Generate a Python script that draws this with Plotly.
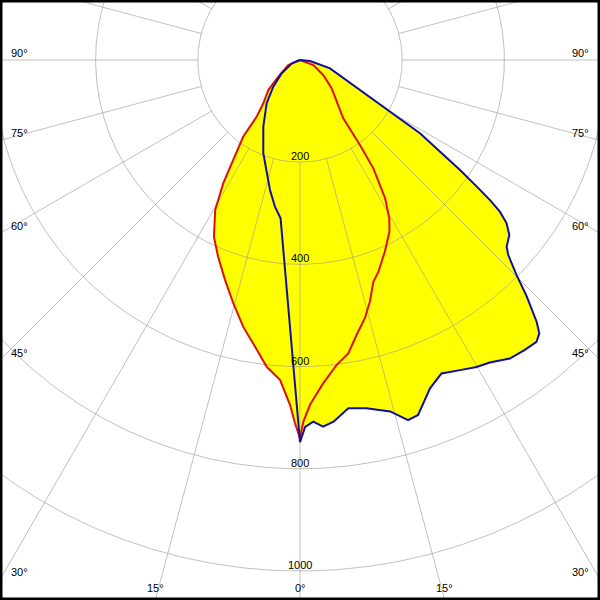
import numpy as np
import plotly.graph_objects as go

# ---- Data: luminous intensity (cd) against gamma angle (deg) ----
blue_right_gamma = [0, 0.8, 2.1, 3.6, 5.3, 7.9, 10.8, 14.4, 16.7, 18.4,
                    21.6, 24.3, 27.3, 29.9, 32.1, 35.1, 37.8, 40.0, 41.2, 42.1,
                    43.8, 45.2, 46.9, 47.9, 50.1, 51.7, 52.8, 53.6, 54.4, 55.5,
                    58.6, 60.1, 63.5, 74.5, 84, 90]
blue_right_cd = [748, 718, 708, 719, 711, 688, 694, 710, 736, 732,
                 691, 673, 683, 693, 699, 714, 718, 720, 711, 691,
                 641, 597, 558, 545, 534, 515, 491, 462, 425, 380,
                 275, 203, 124, 61, 20, 0]

blue_left_gamma = [0, 7.0, 9.7, 13.0, 16.4, 21.5, 28.8, 37.6, 45, 54, 68, 90]
blue_left_cd = [748, 312, 291, 261, 231, 196, 149, 107, 74, 44, 17, 0]

red_right_gamma = [0, 0.52, 1.66, 4.12, 6.86, 9.35, 11.65, 14.1, 16.15, 18.3,
                   20.3, 23.9, 27.5, 29.4, 31.6, 34.1, 35.2, 36.6, 48.2, 57.2,
                   69.4, 90]
red_right_cd = [740, 708, 675, 634, 601, 582, 549, 521, 492, 457,
                442, 410, 379, 356, 318, 256, 204, 142, 83, 54,
                28, 0]

red_left_gamma = [0, 0.79, 1.66, 3.58, 6.2, 8.9, 12.0, 15.3, 18.8, 22.6,
                  25.95, 29.5, 31.9, 33.7, 36.5, 37.4, 40.3, 46.6, 52.4, 66.9, 90]
red_left_cd = [740, 711, 675, 627, 604, 568, 534, 494, 455, 417,
               385, 337, 284, 235, 187, 140, 111, 85, 54, 25, 0]

circle_values = [200, 400, 600, 800, 1000]
circle_labels = ["200", "400", "600", "800", "1000"]
spoke_angles = [0, 15, 30, 45, 60, 75, 90, 105, 120, 135, 150, 165, 180]
angle_label_values = [0, 15, 30, 45, 60, 75, 90]

# ---- geometry ----
S = 0.511            # px per cd
CX, CY = 300, 60     # pixel position of the origin
W, H = 600, 600
x_range = [-CX / S, (W - CX) / S]
y_range = [-(H - CY) / S, CY / S]


def polar_xy(gamma, cd, side):
    g = np.radians(np.asarray(gamma, dtype=float))
    r = np.asarray(cd, dtype=float)
    return side * r * np.sin(g), -r * np.cos(g)


def closed_curve(lg, lc, rg, rc):
    xl, yl = polar_xy(lg, lc, -1)
    xr, yr = polar_xy(rg, rc, 1)
    return np.concatenate([xl[::-1], xr]), np.concatenate([yl[::-1], yr])


bx, by = closed_curve(blue_left_gamma, blue_left_cd, blue_right_gamma, blue_right_cd)
rx, ry = closed_curve(red_left_gamma, red_left_cd, red_right_gamma, red_right_cd)

YELLOW = "#ffff00"
GRID = "rgba(150,150,150,0.6)"
RED = "#e01010"
BLUE = "#1010a0"

fig = go.Figure()
fig.add_trace(go.Scatter(x=rx, y=ry, mode="lines", fill="toself", fillcolor=YELLOW,
                         line=dict(width=0, color=YELLOW), hoverinfo="skip"))
fig.add_trace(go.Scatter(x=bx, y=by, mode="lines", fill="toself", fillcolor=YELLOW,
                         line=dict(width=0, color=YELLOW), hoverinfo="skip"))

# grid circles
t = np.linspace(0, 2 * np.pi, 721)
gx, gy = [], []
for r in circle_values:
    gx += list(r * np.sin(t)) + [None]
    gy += list(r * np.cos(t)) + [None]
# spokes from the 200 circle outwards
for a in spoke_angles:
    for side in (-1, 1):
        if side == -1 and a in (0, 180):
            continue
        ar = np.radians(a)
        gx += [side * 200 * np.sin(ar), side * 1500 * np.sin(ar), None]
        gy += [-200 * np.cos(ar), -1500 * np.cos(ar), None]
fig.add_trace(go.Scatter(x=gx, y=gy, mode="lines", line=dict(color=GRID, width=1),
                         hoverinfo="skip"))

fig.add_trace(go.Scatter(x=rx, y=ry, mode="lines", line=dict(color=RED, width=2),
                         hoverinfo="skip"))
fig.add_trace(go.Scatter(x=bx, y=by, mode="lines", line=dict(color=BLUE, width=2),
                         hoverinfo="skip"))

FONT = dict(family="Liberation Sans, Arial, sans-serif", size=11, color="black")
ann = []
for r, lab in zip(circle_values, circle_labels):
    ann.append(dict(x=0, y=-r + 6 / S, text=lab, showarrow=False, font=FONT,
                    xanchor="center", yanchor="middle"))

half_w = CX / S
bottom = (H - CY) / S
for a in angle_label_values:
    ar = np.radians(a)
    for side in (-1, 1):
        if side == -1 and a == 0:
            continue
        tx = half_w / np.sin(ar) if a > 0 else np.inf
        ty = bottom / np.cos(ar) if a < 90 else np.inf
        if tx < ty:
            yy = -tx * np.cos(ar) + 7.5 / S
            xx = side * (half_w - 9 / S)
            ann.append(dict(x=xx, y=yy, text=f"{a}°", showarrow=False, font=FONT,
                            xanchor="left" if side < 0 else "right", yanchor="middle"))
        else:
            xx = side * ty * np.sin(ar)
            ann.append(dict(x=xx, y=-bottom + 12 / S, text=f"{a}°", showarrow=False,
                            font=FONT, xanchor="center", yanchor="middle"))

fig.update_layout(
    width=W, height=H, margin=dict(l=0, r=0, t=0, b=0),
    paper_bgcolor="white", plot_bgcolor="white", showlegend=False,
    xaxis=dict(range=x_range, visible=False, fixedrange=True),
    yaxis=dict(range=y_range, visible=False, fixedrange=True),
    annotations=ann,
    shapes=[dict(type="rect", xref="paper", yref="paper", x0=0, y0=0, x1=1, y1=1,
                 line=dict(color="black", width=5), layer="above")],
)

fig.write_html(
    "out.html",
    config={"displayModeBar": False, "staticPlot": True},
    post_script="document.body.style.margin='0';document.body.style.overflow='hidden';",
)
